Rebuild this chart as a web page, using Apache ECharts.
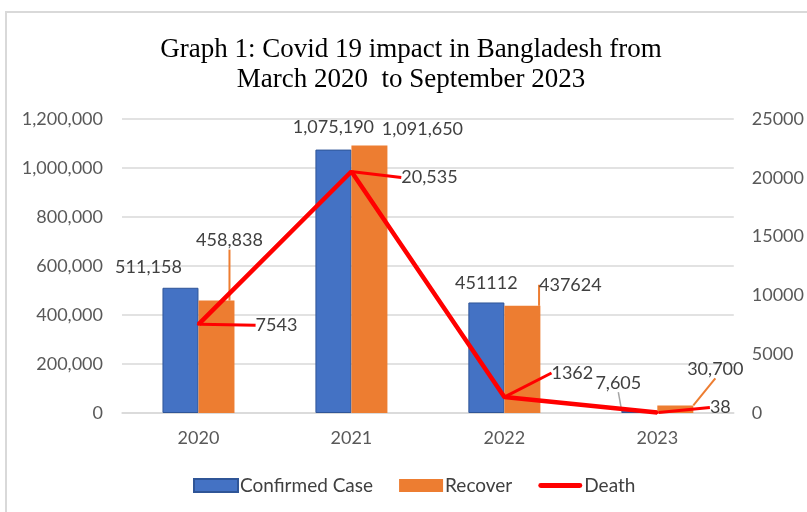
<!DOCTYPE html>
<html>
<head>
<meta charset="utf-8">
<script src="https://cdn.jsdelivr.net/npm/echarts@6/dist/echarts.min.js"></script>
<style>
  html, body { margin: 0; padding: 0; background: #fff; }
  #chart { width: 807px; height: 512px; }
</style>
</head>
<body>
<div id="chart"></div>
<script>
// Covid-19 in Bangladesh, yearly totals
const years = ['2020', '2021', '2022', '2023'];
const confirmedCase = [511158, 1075190, 451112, 7605];
const recovered = [458838, 1091650, 437624, 30700];
const deaths = [7543, 20535, 1362, 38];

const leftTicks = { min: 0, max: 1200000, interval: 200000 };
const rightTicks = { min: 0, max: 25000, interval: 5000 };

// label text as printed on the chart
const confirmedText = ['511,158', '1,075,190', '451112', '7,605'];
const recoveredText = ['458,838', '1,091,650', '437624', '30,700'];
const deathText = ['7543', '20,535', '1362', '38'];

// label centre offsets (px): bars from the top-centre of the bar, line from the point
const confirmedShift = [[-32, -21], [0, -22], [0, -19], [-21, -28]];
const recoveredShift = [[13, -60], [53, -16], [48, -21], [40, -36]];
const deathShift = [[78, 1], [78, 6], [68, -24], [63, -5]];

const textColor = '#404040';
const labelFont = { fontFamily: 'Lato', fontSize: 18, color: textColor };

const chart = echarts.init(document.getElementById('chart'), null, { renderer: 'canvas' });

// place a label by its centre, relative to the element it belongs to
function barPlace(shift) {
  return p => ({
    x: p.rect.x + p.rect.width / 2 + shift[p.dataIndex][0],
    y: p.rect.y + shift[p.dataIndex][1],
    align: 'center',
    verticalAlign: 'middle'
  });
}
function pointPlace(shift) {
  return p => ({
    x: p.rect.x + p.rect.width / 2 + shift[p.dataIndex][0],
    y: p.rect.y + p.rect.height / 2 + shift[p.dataIndex][1],
    align: 'center',
    verticalAlign: 'middle'
  });
}

const option = {
  backgroundColor: '#fff',
  animation: false,
  title: {
    text: 'Graph 1: Covid 19 impact in Bangladesh from\nMarch 2020  to September 2023',
    left: 406,
    textAlign: 'center',
    top: 30,
    textStyle: {
      fontFamily: 'Liberation Serif',
      fontSize: 27,
      fontWeight: 'normal',
      color: '#000',
      lineHeight: 30
    }
  },
  graphic: [{
    type: 'rect',
    shape: { x: 6, y: 12, width: 830, height: 540 },
    style: { fill: 'none', stroke: '#d9d9d9', lineWidth: 2 },
    silent: true,
    z: -1
  }],
  legend: {
    bottom: 12,
    left: 188,
    itemGap: 26,
    itemWidth: 44,
    itemHeight: 13,
    textStyle: { fontFamily: 'Lato', fontSize: 19, color: textColor, padding: [0, 0, 0, -3] },
    data: [
      { name: 'Confirmed Case', icon: 'rect' },
      { name: 'Recover', icon: 'rect' },
      { name: 'Death', icon: 'path://M2,4 L42,4 A2.5,2.5 0 0 1 42,9 L2,9 A2.5,2.5 0 0 1 2,4 Z' }
    ]
  },
  grid: { left: 122, right: 73, top: 119, bottom: 99 },
  xAxis: {
    type: 'category',
    data: years,
    axisTick: { show: false },
    axisLine: { show: true, lineStyle: { color: '#d9d9d9', width: 1.5 } },
    axisLabel: { fontFamily: 'Lato', fontSize: 18, color: '#595959', margin: 16 }
  },
  yAxis: [
    {
      type: 'value',
      min: leftTicks.min,
      max: leftTicks.max,
      interval: leftTicks.interval,
      axisLine: { show: false },
      axisTick: { show: false },
      splitLine: { lineStyle: { color: '#d9d9d9', width: 1.5 } },
      axisLabel: {
        fontFamily: 'Lato', fontSize: 18, color: '#595959', margin: 19,
        formatter: v => v.toLocaleString('en-US')
      }
    },
    {
      type: 'value',
      min: rightTicks.min,
      max: rightTicks.max,
      interval: rightTicks.interval,
      axisLine: { show: false },
      axisTick: { show: false },
      splitLine: { show: false },
      axisLabel: {
        fontFamily: 'Lato', fontSize: 18, color: '#595959', margin: 18,
        formatter: v => String(v)
      }
    }
  ],
  series: [
    {
      name: 'Confirmed Case',
      type: 'bar',
      barWidth: 36,
      barGap: '0%',
      itemStyle: { color: '#4472c4', borderColor: '#2f5597', borderWidth: 1 },
      label: {
        show: true, position: 'top', ...labelFont,
        formatter: p => confirmedText[p.dataIndex]
      },
      labelLine: { show: false },
      labelLayout: barPlace(confirmedShift),
      data: confirmedCase.map((v, i) => ({
        value: v,
        labelLine: i === 3 ? { show: true, lineStyle: { color: '#a6a6a6', width: 1.5 } } : { show: false }
      }))
    },
    {
      name: 'Recover',
      type: 'bar',
      barWidth: 36,
      itemStyle: { color: '#ed7d31' },
      label: {
        show: true, position: 'top', ...labelFont,
        formatter: p => recoveredText[p.dataIndex]
      },
      labelLine: { show: true, lineStyle: { color: '#ed7d31', width: 2 } },
      labelLayout: barPlace(recoveredShift),
      data: recovered.map((v, i) => ({
        value: v,
        labelLine: i === 1 ? { show: false } : { show: true }
      }))
    },
    {
      name: 'Death',
      type: 'line',
      yAxisIndex: 1,
      symbol: 'circle',
      symbolSize: 3,
      itemStyle: { color: '#ff0000' },
      lineStyle: { color: '#ff0000', width: 4.5 },
      label: {
        show: true, position: 'right', ...labelFont,
        formatter: p => deathText[p.dataIndex]
      },
      labelLine: { show: true, lineStyle: { color: '#ff0000', width: 3 } },
      labelLayout: pointPlace(deathShift),
      data: deaths,
      z: 5
    }
  ]
};

chart.setOption(option);
</script>
</body>
</html>
